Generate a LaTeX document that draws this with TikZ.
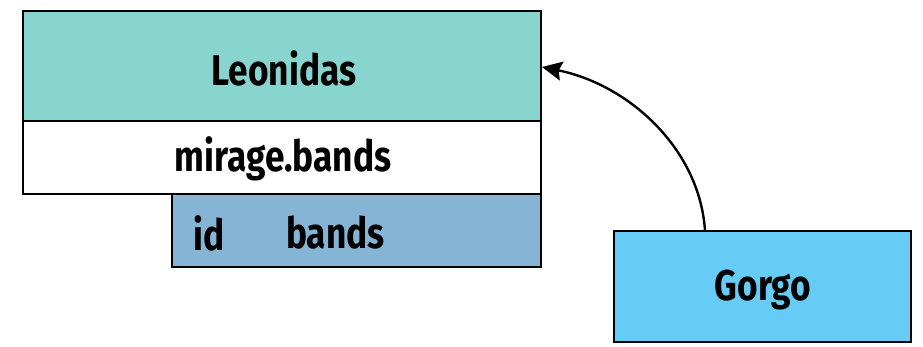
\documentclass[tikz,border=0pt]{standalone}
\usepackage{fontspec}
\setmainfont{Fira Sans}[FakeStretch=0.82]
\usetikzlibrary{arrows.meta}
\definecolor{leo}{HTML}{88D5CF}
\definecolor{tbl}{HTML}{86B4D4}
\definecolor{gor}{HTML}{66CCF5}
\tikzset{
  box/.style={draw=black, line width=2.6pt, inner sep=0pt},
  lbl/.style={font=\fontsize{43}{45}\selectfont\bfseries, inner sep=0pt},
  conn/.style={draw=black, line width=2.4pt, -{Stealth[length=20pt,width=19pt,inset=3pt]}}
}
\begin{document}
\begin{tikzpicture}[x=1pt,y=-1pt]
\useasboundingbox (0,0) rectangle (923,347);
\fill[white] (0,0) rectangle (923,347);
% boxes
\path[box, fill=leo] (23,11) rectangle (541,121);
\path[box, fill=white] (23,121) rectangle (541,194);
\path[box, fill=tbl] (172,194) rectangle (541,267);
\path[box, fill=gor] (614,231) rectangle (911,342);
% labels
\node[lbl] (leonidas) at (284,68) {Leonidas};
\node[lbl] (mirage) at (283,159) {mirage.bands};
\node[lbl, anchor=west] (id) at (193,233) {id};
\node[lbl, anchor=west] (bands) at (286,233) {bands};
\node[lbl] (gorgo) at (763,290) {Gorgo};
\coordinate (gtop) at (705,231);
\coordinate (leoright) at (542,67);
\draw[conn] (gtop) .. controls (700,150) and (630,85) .. (leoright);
\end{tikzpicture}
\end{document}
